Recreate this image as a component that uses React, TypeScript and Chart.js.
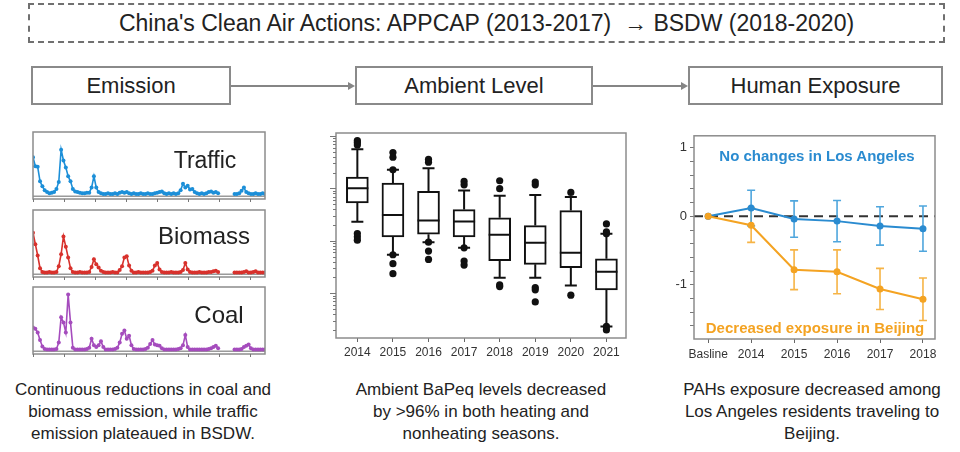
import React, { useEffect, useRef } from "react";
import { Chart, registerables } from "chart.js";
Chart.register(...registerables);

const FONT = "'Liberation Sans', Arial, Helvetica, sans-serif";

// ---------- Emission panel (relative emission, % of panel scale) ----------
const emissionTicks = [0, 13.2, 26.4, 39.6, 52.8, 66, 79.2, 92.4];
const traffic = [
  60, 46, 45, 22, 14, 8, 5, 3, 4, 5,
  10, 21, 72, 55, 44, 30, 22, 10, 6, 5,
  4, 3, 3, 4, 4, 12, 30, 12, 5, 3,
  2, 2, 3, 2, 2, 3, 2, 4, 5, 4,
  5, 3, 2, 3, 2, 2, 3, 2, 2, 3,
  2, 2, 3, 4, 5, 6, 3, 2, 3, 2,
  3, 2, 3, 8, 18, 12, 15, 9, 10, 5,
  3, 2, 3, 2, 3, 5, 6, 4, 5, 3,
  null, null, null, null, null, null, 2, 2, 3, 7,
  12, 5, 3, 2, 2, 3, 2, 2, 3, 2,
];
const biomass = [
  64, 46, 28, 8, 2, 1, 1, 2, 1, 1,
  2, 11, 30, 58, 42, 25, 8, 2, 1, 1,
  2, 1, 1, 1, 2, 10, 22, 14, 9, 4,
  2, 1, 1, 1, 2, 1, 1, 5, 11, 25,
  27, 12, 4, 1, 1, 2, 1, 1, 1, 1,
  2, 4, 12, 16, 6, 2, 1, 1, 1, 2,
  1, 1, 1, 2, 5, 16, 6, 2, 1, 1,
  1, 2, 1, 1, 1, 2, 2, 3, 4, 2,
  null, null, null, null, null, null, 1, 1, 1, 1,
  2, 3, 1, 1, 2, 3, 1, 1, 1, 1,
];
const coal = [
  36, 34, 28, 16, 6, 2, 1, 1, 1, 1,
  2, 12, 52, 44, 28, 88, 44, 4, 1, 1,
  1, 1, 1, 2, 4, 18, 8, 5, 8, 14,
  5, 1, 1, 1, 1, 2, 4, 12, 26, 31,
  18, 23, 8, 2, 1, 1, 1, 1, 2, 4,
  10, 16, 9, 8, 7, 3, 1, 1, 1, 1,
  1, 1, 2, 3, 8, 24, 5, 1, 1, 1,
  1, 1, 1, 1, 1, 2, 3, 5, 7, 3,
  null, null, null, null, null, null, 1, 1, 1, 2,
  5, 7, 9, 3, 1, 1, 1, 1, 1, 1,
];

// ---------- Ambient level box plot (BaPeq, log scale) ----------
const years = ["2014", "2015", "2016", "2017", "2018", "2019", "2020", "2021"];
const boxQ1 = [52.7, 11.9, 13.4, 11.9, 4.17, 3.56, 3.07, 1.16];
const boxMedian = [101, 31.2, 24.3, 23.3, 13.0, 9.16, 5.92, 2.58];
const boxQ3 = [164, 126, 87.7, 39.4, 27.4, 19.5, 37.7, 4.55];
const whiskerLow = [23, 5.42, 9.44, 7.36, 1.98, 1.98, 1.4, 0.233];
const whiskerHigh = [558, 226, 243, 91.6, 72.6, 74.7, 68.4, 13.6];
const outlierYear = [
  0, 0, 0, 0, 0, 0,
  1, 1, 1, 1, 1, 1,
  2, 2, 2, 2, 2,
  3, 3, 3, 3, 3,
  4, 4, 4, 4,
  5, 5, 5, 5, 5,
  6, 6,
  7, 7, 7, 7, 7,
];
const outlierValue = [
  815, 747, 674, 13.8, 11.9, 10.3,
  483, 393, 226, 5.42, 3.66, 2.36,
  360, 316, 9.44, 6.37, 4.42,
  136, 117, 7.36, 4.11, 3.45,
  140, 98.6, 1.44, 1.34,
  132, 117, 1.28, 1.16, 0.684,
  83.9, 0.917,
  21.0, 14.8, 13.6, 0.233, 0.2,
];

// ---------- Human exposure (change relative to baseline) ----------
const exposureLabels = ["Basline", "2014", "2015", "2016", "2017", "2018"];
const laMean = [0, 0.12, -0.04, -0.07, -0.14, -0.18];
const laErr = [0, 0.26, 0.265, 0.3, 0.28, 0.33];
const bjMean = [0, -0.13, -0.78, -0.81, -1.06, -1.21];
const bjErr = [0, 0.25, 0.29, 0.32, 0.3, 0.31];

const BLUE = "#2a8bd0";
const BLUE_ERR = "#4fa6dd";
const ORANGE = "#f4a322";
const ORANGE_ERR = "#f6b446";
const FRAME = "#8c8c8c";

function strokeFrame(chart: any) {
  const { ctx, chartArea: a } = chart;
  ctx.save();
  ctx.strokeStyle = FRAME;
  ctx.lineWidth = 1.5;
  ctx.strokeRect(a.left, a.top, a.right - a.left, a.bottom - a.top);
  ctx.restore();
}

function EmissionChart({ values, color, top, height }: any) {
  const ref = useRef<HTMLCanvasElement>(null);
  useEffect(() => {
    const chart = new Chart(ref.current as HTMLCanvasElement, {
      type: "line",
      data: {
        datasets: [
          {
            data: values.map((v: any, i: number) => ({ x: i, y: v })),
            borderColor: color,
            backgroundColor: color,
            borderWidth: 1.6,
            pointRadius: 2,
            pointBorderWidth: 0,
            spanGaps: false,
            tension: 0,
          },
        ],
      },
      options: {
        animation: false,
        responsive: false,
        events: [],
        layout: { padding: { left: 5, right: 5, top: 4, bottom: 6 } },
        plugins: { legend: { display: false }, tooltip: { enabled: false } },
        scales: {
          x: { type: "linear", display: false, min: 0, max: 99 },
          y: { display: false, min: -6, max: 100 },
        },
      },
      plugins: [
        {
          id: "emissionDeco",
          beforeDatasetsDraw(c: any) {
            const { ctx, chartArea: a, scales } = c;
            const y0 = scales.y.getPixelForValue(-1.5);
            ctx.save();
            ctx.strokeStyle = "#9a9a9a";
            ctx.lineWidth = 1.5;
            ctx.beginPath();
            ctx.moveTo(a.left, y0);
            ctx.lineTo(a.right, y0);
            ctx.stroke();
            ctx.restore();
          },
          afterDatasetsDraw(c: any) {
            strokeFrame(c);
            const { ctx, chartArea: a, scales } = c;
            ctx.save();
            ctx.strokeStyle = "#777";
            ctx.lineWidth = 1;
            emissionTicks.forEach((t) => {
              const x = Math.round(scales.x.getPixelForValue(t)) + 0.5;
              ctx.beginPath();
              ctx.moveTo(x, a.bottom);
              ctx.lineTo(x, a.bottom + 3);
              ctx.stroke();
            });
            ctx.restore();
          },
        },
      ],
    });
    return () => chart.destroy();
  }, []);
  return (
    <canvas
      ref={ref}
      width={242}
      height={height + 10}
      style={{ position: "absolute", left: 28, top: top - 4, width: 242, height: height + 10 }}
    />
  );
}

function BoxChart() {
  const ref = useRef<HTMLCanvasElement>(null);
  useEffect(() => {
    const chart = new Chart(ref.current as HTMLCanvasElement, {
      type: "bar",
      data: {
        datasets: [
          {
            type: "bar",
            data: years.map((_, i) => ({ x: i, y: [boxQ1[i], boxQ3[i]] })) as any,
            backgroundColor: "#ffffff",
            borderColor: "#111",
            borderWidth: 2,
            borderSkipped: false,
            barThickness: 22,
          } as any,
          {
            type: "scatter",
            data: outlierYear.map((yi, k) => ({ x: yi, y: outlierValue[k] })),
            backgroundColor: "#111",
            borderWidth: 0,
            pointRadius: 3.6,
          } as any,
        ],
      },
      options: {
        animation: false,
        responsive: false,
        events: [],
        layout: { padding: { left: 0, right: 14, top: 8, bottom: 0 } },
        plugins: { legend: { display: false }, tooltip: { enabled: false } },
        scales: {
          x: {
            type: "linear",
            min: -0.6,
            max: 7.55,
            offset: false,
            afterBuildTicks: (ax: any) => {
              ax.ticks = years.map((_, i) => ({ value: i }));
            },
            afterFit: (ax: any) => {
              ax.height = 27;
            },
            ticks: {
              callback: (v: any) => years[v] ?? "",
              autoSkip: false,
              maxRotation: 0,
              padding: 3,
              color: "#333",
              font: { family: FONT, size: 12 },
            },
            grid: { drawOnChartArea: false, tickLength: 4, color: "#666", offset: false },
            border: { display: false },
          },
          y: {
            type: "logarithmic",
            min: 0.14,
            max: 1140,
            afterFit: (ax: any) => {
              ax.width = 36;
            },
            ticks: { display: false },
            grid: { display: false },
            border: { display: false },
          },
        },
      },
      plugins: [
        {
          id: "boxDeco",
          afterDatasetsDraw(c: any) {
            const { ctx, chartArea: a, scales } = c;
            const xs = scales.x;
            const ys = scales.y;
            ctx.save();
            ctx.strokeStyle = "#111";
            ctx.lineWidth = 2;
            years.forEach((_, i) => {
              const x = xs.getPixelForValue(i);
              const yMed = ys.getPixelForValue(boxMedian[i]);
              const yQ1 = ys.getPixelForValue(boxQ1[i]);
              const yQ3 = ys.getPixelForValue(boxQ3[i]);
              const yLo = ys.getPixelForValue(whiskerLow[i]);
              const yHi = ys.getPixelForValue(whiskerHigh[i]);
              ctx.beginPath();
              ctx.moveTo(x - 11, yMed);
              ctx.lineTo(x + 11, yMed);
              ctx.moveTo(x, yQ3);
              ctx.lineTo(x, yHi);
              ctx.moveTo(x - 6, yHi);
              ctx.lineTo(x + 6, yHi);
              ctx.moveTo(x, yQ1);
              ctx.lineTo(x, yLo);
              ctx.moveTo(x - 6, yLo);
              ctx.lineTo(x + 6, yLo);
              ctx.stroke();
            });
            ctx.restore();
            strokeFrame(c);
            // log-scale axis ticks
            ctx.save();
            ctx.strokeStyle = "#777";
            ctx.lineWidth = 1;
            for (let e = -1; e <= 3; e++) {
              for (let m = 1; m <= 9; m++) {
                const v = m * Math.pow(10, e);
                if (v < ys.min || v > ys.max) continue;
                const y = Math.round(ys.getPixelForValue(v)) + 0.5;
                ctx.beginPath();
                ctx.moveTo(a.left - (m === 1 ? 6 : 3), y);
                ctx.lineTo(a.left, y);
                ctx.stroke();
              }
            }
            ctx.restore();
          },
        },
      ],
    });
    return () => chart.destroy();
  }, []);
  return (
    <canvas
      ref={ref}
      width={340}
      height={240}
      style={{ position: "absolute", left: 300, top: 125, width: 340, height: 240 }}
    />
  );
}

function ExposureChart() {
  const ref = useRef<HTMLCanvasElement>(null);
  useEffect(() => {
    const series = [
      { mean: bjMean, err: bjErr, color: ORANGE, errColor: ORANGE_ERR },
      { mean: laMean, err: laErr, color: BLUE, errColor: BLUE_ERR },
    ];
    const chart = new Chart(ref.current as HTMLCanvasElement, {
      type: "line",
      data: {
        datasets: series.map((s, k) => ({
          data: s.mean.map((v, i) => ({ x: i, y: v })),
          borderColor: s.color,
          backgroundColor: s.mean.map((_, i) => (i === 0 && k === 1 ? "#1f6fb5" : s.color)),
          borderWidth: 2,
          pointRadius: 3.5,
          pointBorderWidth: 0,
          tension: 0,
        })),
      },
      options: {
        animation: false,
        responsive: false,
        events: [],
        layout: { padding: { left: 0, right: 15, top: 8, bottom: 0 } },
        plugins: { legend: { display: false }, tooltip: { enabled: false } },
        scales: {
          x: {
            type: "linear",
            min: -0.33,
            max: 5.28,
            afterBuildTicks: (ax: any) => {
              ax.ticks = exposureLabels.map((_, i) => ({ value: i }));
            },
            afterFit: (ax: any) => {
              ax.height = 31;
            },
            ticks: {
              callback: (v: any) => exposureLabels[v] ?? "",
              autoSkip: false,
              maxRotation: 0,
              padding: 4,
              color: "#333",
              font: { family: FONT, size: 12 },
            },
            grid: { drawOnChartArea: false, tickLength: 4, color: "#666" },
            border: { display: false },
          },
          y: {
            type: "linear",
            min: -1.79,
            max: 1.175,
            afterBuildTicks: (ax: any) => {
              const t = [];
              for (let k = -8; k <= 5; k++) t.push({ value: k / 5 });
              ax.ticks = t;
            },
            afterFit: (ax: any) => {
              ax.width = 39;
            },
            ticks: {
              callback: (v: any) => (Math.abs(v - Math.round(v)) < 1e-6 ? String(Math.round(v)) : ""),
              autoSkip: false,
              padding: 3,
              color: "#333",
              font: { family: FONT, size: 13 },
            },
            grid: { drawOnChartArea: false, tickLength: 4, color: "#777" },
            border: { display: false },
          },
        },
      },
      plugins: [
        {
          id: "exposureDeco",
          beforeDatasetsDraw(c: any) {
            const { ctx, chartArea: a, scales } = c;
            const xs = scales.x;
            const ys = scales.y;
            ctx.save();
            const y0 = ys.getPixelForValue(0);
            ctx.strokeStyle = "#333";
            ctx.lineWidth = 2;
            ctx.setLineDash([9, 6]);
            ctx.beginPath();
            ctx.moveTo(a.left, y0);
            ctx.lineTo(a.right, y0);
            ctx.stroke();
            ctx.setLineDash([]);
            ctx.lineWidth = 1.6;
            series.forEach((s) => {
              ctx.strokeStyle = s.errColor;
              s.mean.forEach((m, i) => {
                if (!s.err[i]) return;
                const x = xs.getPixelForValue(i);
                const yt = ys.getPixelForValue(m + s.err[i]);
                const yb = ys.getPixelForValue(m - s.err[i]);
                ctx.beginPath();
                ctx.moveTo(x, yt);
                ctx.lineTo(x, yb);
                ctx.moveTo(x - 4, yt);
                ctx.lineTo(x + 4, yt);
                ctx.moveTo(x - 4, yb);
                ctx.lineTo(x + 4, yb);
                ctx.stroke();
              });
            });
            ctx.restore();
          },
          afterDatasetsDraw(c: any) {
            strokeFrame(c);
          },
        },
      ],
    });
    return () => chart.destroy();
  }, []);
  return (
    <canvas
      ref={ref}
      width={295}
      height={245}
      style={{ position: "absolute", left: 655, top: 125, width: 295, height: 245 }}
    />
  );
}

const boxStyle = (left: number, width: number): React.CSSProperties => ({
  position: "absolute",
  left,
  top: 66,
  width,
  height: 39,
  boxSizing: "border-box",
  border: "2px solid #8a8a8a",
  display: "flex",
  alignItems: "center",
  justifyContent: "center",
  fontSize: 22,
  color: "#222",
  background: "#fff",
});

const captionStyle = (center: number): React.CSSProperties => ({
  position: "absolute",
  left: center - 160,
  width: 320,
  top: 379,
  textAlign: "center",
  fontSize: 17,
  lineHeight: "22px",
  color: "#222",
});

function Arrow({ x1, x2, y }: any) {
  return (
    <svg
      width={x2 - x1}
      height={12}
      style={{ position: "absolute", left: x1, top: y - 6 }}
    >
      <line x1={0} y1={6} x2={x2 - x1 - 6} y2={6} stroke="#858585" strokeWidth={2} />
      <polygon points={`${x2 - x1 - 7},2 ${x2 - x1},6 ${x2 - x1 - 7},10`} fill="#858585" />
    </svg>
  );
}

function Label({ text, cx, cy, size, color, bold }: any) {
  return (
    <div
      style={{
        position: "absolute",
        left: cx,
        top: cy,
        transform: "translate(-50%, -50%)",
        whiteSpace: "nowrap",
        fontSize: size,
        fontWeight: bold ? "bold" : "normal",
        color,
        lineHeight: 1,
      }}
    >
      {text}
    </div>
  );
}

export default function App() {
  return (
    <div
      style={{
        position: "absolute",
        left: 0,
        top: 0,
        width: 960,
        height: 452,
        background: "#fff",
        overflow: "hidden",
        fontFamily: FONT,
      }}
    >
      <div
        style={{
          position: "absolute",
          left: 28,
          top: 3,
          width: 917,
          height: 40,
          boxSizing: "border-box",
          border: "2px dashed #707070",
          display: "flex",
          alignItems: "center",
          justifyContent: "center",
          fontSize: 23,
          color: "#222",
        }}
      >
        China's Clean Air Actions: APPCAP (2013-2017) &nbsp;→ BSDW (2018-2020)
      </div>

      <div style={boxStyle(31, 200)}>Emission</div>
      <div style={boxStyle(355, 238)}>Ambient Level</div>
      <div style={boxStyle(688, 255)}>Human Exposure</div>
      <Arrow x1={231} x2={355} y={86} />
      <Arrow x1={593} x2={688} y={86} />

      <EmissionChart values={traffic} color="#1c8fd8" top={132} height={67} />
      <EmissionChart values={biomass} color="#d8312c" top={210} height={67} />
      <EmissionChart values={coal} color="#a54cbd" top={287} height={67} />
      <Label text="Traffic" cx={205} cy={160} size={23} color="#222" />
      <Label text="Biomass" cx={204} cy={236} size={24} color="#222" />
      <Label text="Coal" cx={219} cy={315} size={24} color="#222" />

      <BoxChart />
      <ExposureChart />
      <Label text="No changes in Los Angeles" cx={817} cy={155} size={15} color={BLUE} bold />
      <Label text="Decreased exposure in Beijing" cx={815} cy={327} size={15} color={ORANGE} bold />

      <div style={captionStyle(143)}>
        Continuous reductions in coal and
        <br />
        biomass emission, while traffic
        <br />
        emission plateaued in BSDW.
      </div>
      <div style={captionStyle(481)}>
        Ambient BaPeq levels decreased
        <br />
        by &gt;96% in both heating and
        <br />
        nonheating seasons.
      </div>
      <div style={captionStyle(812)}>
        PAHs exposure decreased among
        <br />
        Los Angeles residents traveling to
        <br />
        Beijing.
      </div>
    </div>
  );
}
